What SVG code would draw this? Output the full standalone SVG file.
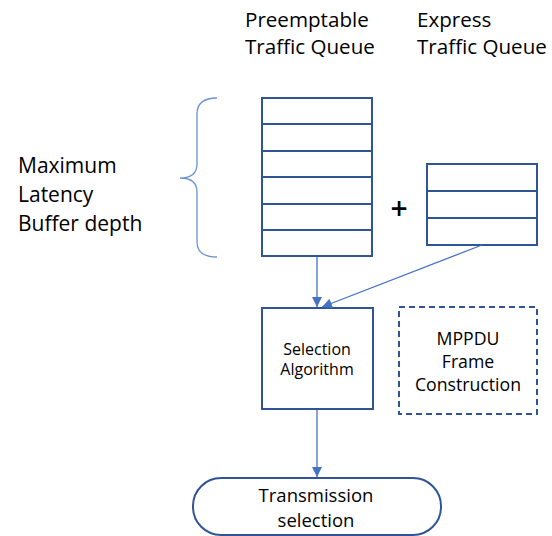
<svg xmlns="http://www.w3.org/2000/svg" width="552" height="536" viewBox="0 0 552 536">
  <style>
    .box { fill: #ffffff; stroke: #2F5597; stroke-width: 2; }
    .row { stroke: #2F5597; stroke-width: 2; }
    .dash { fill: none; stroke: #2F5597; stroke-width: 2; stroke-dasharray: 6 4; }
    .brace { fill: none; stroke: #6A93D8; stroke-width: 1.3; }
    .conn { stroke: #4472C4; stroke-width: 1.3; fill: none; }
    .t { font-family: "Open Sans", Lato, "Liberation Sans", sans-serif; fill: #000000; }
    .head { font-size: 20.6px; }
    .side { font-size: 21px; }
    .mid { text-anchor: middle; }
  </style>
  <defs>
    <marker id="arrow" viewBox="0 0 10 10" refX="10" refY="5" markerWidth="10" markerHeight="10" markerUnits="userSpaceOnUse" orient="auto">
      <path d="M0,0 L10,5 L0,10 z" fill="#4472C4"/>
    </marker>
  </defs>

  <!-- column headings -->
  <g id="heading-preemptable">
    <text class="t head" x="245" y="27">Preemptable</text>
    <text class="t head" x="245" y="54">Traffic Queue</text>
  </g>
  <g id="heading-express">
    <text class="t head" x="417" y="27">Express</text>
    <text class="t head" x="417" y="54">Traffic Queue</text>
  </g>

  <!-- buffer depth bracket -->
  <g id="buffer-depth">
    <path class="brace" d="M217,98 C203,98 197,104 197,114 L197,164 C197,174 191,178 180,178 C191,178 197,182 197,192 L197,242 C197,252 203,257 217,257"/>
    <text class="t side" x="18" y="173">Maximum</text>
    <text class="t side" x="18" y="202">Latency</text>
    <text class="t side" x="18" y="231">Buffer depth</text>
  </g>

  <!-- preemptable queue: six slots -->
  <g id="preemptable-queue">
    <rect class="box" x="262" y="98" width="110" height="158"/>
    <line class="row" x1="262" y1="124" x2="372" y2="124"/>
    <line class="row" x1="262" y1="151" x2="372" y2="151"/>
    <line class="row" x1="262" y1="177" x2="372" y2="177"/>
    <line class="row" x1="262" y1="204" x2="372" y2="204"/>
    <line class="row" x1="262" y1="230" x2="372" y2="230"/>
  </g>

  <g id="plus">
    <text class="t mid" x="399" y="219" font-size="30" font-weight="600">+</text>
  </g>

  <!-- express queue: three slots -->
  <g id="express-queue">
    <rect class="box" x="427" y="164" width="110" height="81"/>
    <line class="row" x1="427" y1="191" x2="537" y2="191"/>
    <line class="row" x1="427" y1="218" x2="537" y2="218"/>
  </g>

  <g id="selection-algorithm">
    <rect class="box" x="262" y="308" width="111" height="101"/>
    <text class="t mid" x="317" y="355" font-size="16">Selection</text>
    <text class="t mid" x="317" y="375" font-size="16">Algorithm</text>
  </g>

  <g id="mppdu-frame-construction">
    <rect class="dash" x="399" y="307" width="138" height="107"/>
    <text class="t mid" x="468" y="345" font-size="17.7">MPPDU</text>
    <text class="t mid" x="468" y="368" font-size="17.7">Frame</text>
    <text class="t mid" x="468" y="391" font-size="17.7">Construction</text>
  </g>

  <g id="transmission-selection">
    <rect class="box" x="193" y="478" width="248" height="57" rx="28" ry="28"/>
    <text class="t mid" x="316" y="502" font-size="18.5">Transmission</text>
    <text class="t mid" x="316" y="527" font-size="18.5">selection</text>
  </g>

  <!-- connectors -->
  <g id="connectors">
    <line class="conn" x1="317" y1="257" x2="317" y2="307" marker-end="url(#arrow)"/>
    <line class="conn" x1="482" y1="245" x2="322" y2="307" marker-end="url(#arrow)"/>
    <line class="conn" x1="317" y1="410" x2="317" y2="477" marker-end="url(#arrow)"/>
  </g>
</svg>
